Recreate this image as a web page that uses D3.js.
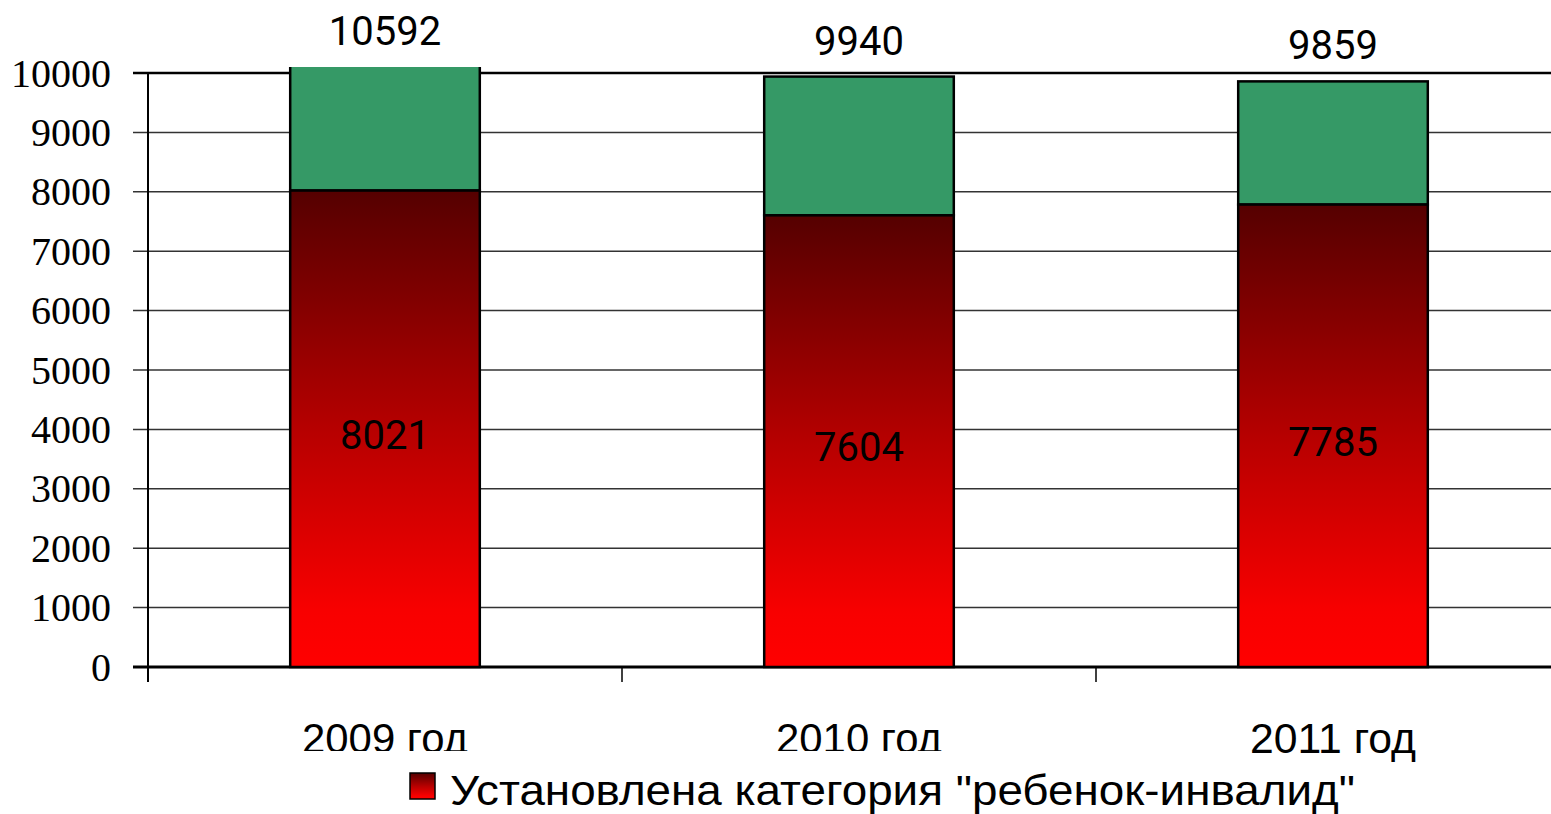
<!DOCTYPE html>
<html>
<head>
<meta charset="utf-8">
<script src="https://cdn.jsdelivr.net/npm/d3@7"></script>
<style>
  body { margin: 0; background: #fff; }
  svg { display: block; }
</style>
</head>
<body>
<svg width="1551" height="814"></svg>
<script>
var years = ["2009 год", "2010 год", "2011 год"];
var disabled = [8021, 7604, 7785];
var totals = [10592, 9940, 9859];
var yTicks = [0, 1000, 2000, 3000, 4000, 5000, 6000, 7000, 8000, 9000, 10000];
var legendLabel = "Установлена категория \"ребенок-инвалид\"";

var svg = d3.select("svg"),
    width = +svg.attr("width"),
    height = +svg.attr("height");

var plotLeft = 148, plotBottom = 667, plotTop = 73, clipTop = 67;

var x = d3.scaleBand()
    .domain(years)
    .range([plotLeft, 1570])
    .paddingInner(0.6)
    .paddingOuter(0.3);

var y = d3.scaleLinear()
    .domain([0, 10000])
    .range([plotBottom, plotTop]);

var defs = svg.append("defs");
var grad = defs.append("linearGradient")
    .attr("id", "redgrad")
    .attr("x1", 0).attr("y1", 0).attr("x2", 0).attr("y2", 1);
grad.append("stop").attr("offset", "0%").attr("stop-color", "#550000");
grad.append("stop").attr("offset", "50%").attr("stop-color", "#b60000");
grad.append("stop").attr("offset", "88%").attr("stop-color", "#f80000");
grad.append("stop").attr("offset", "100%").attr("stop-color", "#ff0000");

defs.append("clipPath").attr("id", "plotclip")
  .append("rect")
    .attr("x", 0).attr("y", clipTop)
    .attr("width", width).attr("height", plotBottom - clipTop + 2);

defs.append("clipPath").attr("id", "labelclip")
  .append("rect")
    .attr("x", 0).attr("y", 0)
    .attr("width", width).attr("height", 751);

// gridlines
svg.append("g")
    .selectAll("line")
    .data(yTicks)
    .enter().append("line")
      .attr("x1", plotLeft - 15)
      .attr("x2", width)
      .attr("y1", function(d) { return y(d); })
      .attr("y2", function(d) { return y(d); })
      .attr("stroke", function(d) { return d === 0 || d === 10000 ? "#000" : "#333"; })
      .attr("stroke-width", function(d) { return d === 0 ? 3 : (d === 10000 ? 2.5 : 1.5); });

// y axis line
svg.append("line")
    .attr("x1", plotLeft).attr("x2", plotLeft)
    .attr("y1", y(10000)).attr("y2", plotBottom + 15)
    .attr("stroke", "#000").attr("stroke-width", 2);

// x ticks at band boundaries
svg.append("g")
    .selectAll("line")
    .data(years)
    .enter().append("line")
      .attr("x1", function(d) { return x(d) - x.step() * x.paddingOuter(); })
      .attr("x2", function(d) { return x(d) - x.step() * x.paddingOuter(); })
      .attr("y1", plotBottom).attr("y2", plotBottom + 15)
      .attr("stroke", "#000").attr("stroke-width", 1.5);

// y tick labels
svg.append("g")
    .selectAll("text")
    .data(yTicks)
    .enter().append("text")
      .attr("x", 111)
      .attr("y", function(d) { return y(d); })
      .attr("dy", "0.34em")
      .attr("text-anchor", "end")
      .attr("font-family", "Liberation Serif, Times New Roman, serif")
      .attr("font-size", 40)
      .text(function(d) { return d; });

// bars
var bars = svg.append("g").attr("clip-path", "url(#plotclip)");

bars.selectAll("rect.green")
    .data(years)
    .enter().append("rect")
      .attr("class", "green")
      .attr("x", function(d) { return x(d); })
      .attr("width", x.bandwidth())
      .attr("y", function(d, i) { return y(totals[i]); })
      .attr("height", function(d, i) { return y(disabled[i]) - y(totals[i]); })
      .attr("fill", "#359966")
      .attr("stroke", "#000")
      .attr("stroke-width", 2.5);

bars.selectAll("rect.red")
    .data(years)
    .enter().append("rect")
      .attr("class", "red")
      .attr("x", function(d) { return x(d); })
      .attr("width", x.bandwidth())
      .attr("y", function(d, i) { return y(disabled[i]); })
      .attr("height", function(d, i) { return plotBottom - y(disabled[i]); })
      .attr("fill", "url(#redgrad)")
      .attr("stroke", "#000")
      .attr("stroke-width", 2.5);

// value labels
svg.append("g")
    .selectAll("text")
    .data(years)
    .enter().append("text")
      .attr("x", function(d) { return x(d) + x.bandwidth() / 2; })
      .attr("y", function(d, i) { return Math.max(y(totals[i]), clipTop) - 22; })
      .attr("text-anchor", "middle")
      .attr("font-family", "Roboto, Liberation Sans, Arial, sans-serif")
      .attr("font-size", 40)
      .text(function(d, i) { return totals[i]; });

svg.append("g")
    .selectAll("text")
    .data(years)
    .enter().append("text")
      .attr("x", function(d) { return x(d) + x.bandwidth() / 2; })
      .attr("y", function(d, i) { return (y(disabled[i]) + plotBottom) / 2 + 20; })
      .attr("text-anchor", "middle")
      .attr("font-family", "Roboto, Liberation Sans, Arial, sans-serif")
      .attr("font-size", 40)
      .text(function(d, i) { return disabled[i]; });

// category labels
svg.append("g")
    .selectAll("text")
    .data(years)
    .enter().append("text")
      .attr("x", function(d) { return x(d) + x.bandwidth() / 2; })
      .attr("y", 753)
      .attr("text-anchor", "middle")
      .attr("font-family", "Liberation Sans, Arial, sans-serif")
      .attr("font-size", 42)
      .attr("textLength", 166)
      .attr("lengthAdjust", "spacingAndGlyphs")
      .attr("clip-path", function(d, i) { return i < 2 ? "url(#labelclip)" : null; })
      .text(function(d) { return d; });

// legend
var legend = svg.append("g");
legend.append("rect")
    .attr("x", 410).attr("y", 773)
    .attr("width", 25).attr("height", 26)
    .attr("fill", "url(#redgrad)")
    .attr("stroke", "#000")
    .attr("stroke-width", 1.5);
legend.append("text")
    .attr("x", 450)
    .attr("y", 805)
    .attr("font-family", "Liberation Sans, Arial, sans-serif")
    .attr("font-size", 43)
    .attr("textLength", 905)
    .attr("lengthAdjust", "spacingAndGlyphs")
    .text(legendLabel);
</script>
</body>
</html>
